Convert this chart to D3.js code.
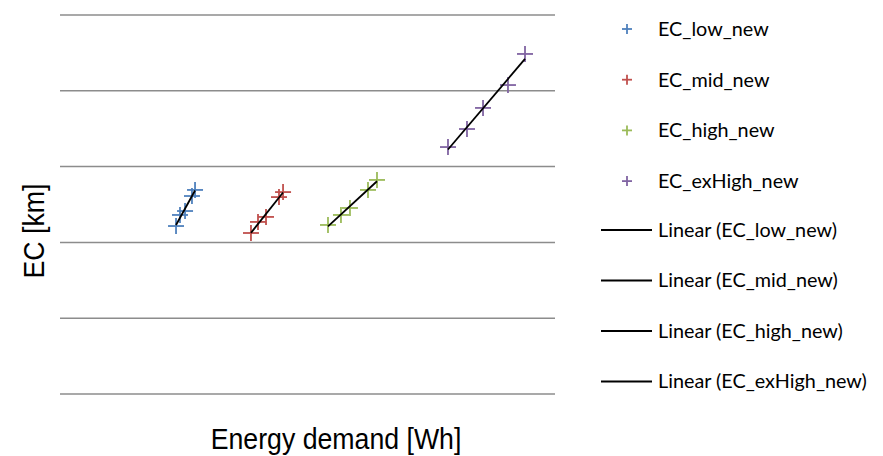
<!DOCTYPE html>
<html><head><meta charset="utf-8">
<script src="https://cdn.jsdelivr.net/npm/d3@7"></script>
<style>body{margin:0;background:#fff}svg{display:block}</style>
</head><body>
<svg id="chart" width="883" height="456"></svg>
<script>
const seriesNames = ["EC_low_new", "EC_mid_new", "EC_high_new", "EC_exHigh_new"];
const seriesColors = ["#4F81BD", "#C0504D", "#9BBB59", "#8064A2"];
const lowX = [1172, 1212, 1263, 1333, 1364];
const lowY = [110.8, 118.1, 120.7, 130.6, 134.6];
const midX = [1929, 2000, 2081, 2212, 2253];
const midY = [106.2, 113.5, 116.8, 129.9, 133.2];
const highX = [2707, 2838, 2929, 3111, 3202];
const highY = [111.5, 118.1, 122.7, 134.6, 141.2];
const exHighX = [3919, 4111, 4273, 4525, 4697];
const exHighY = [162.9, 174.8, 188.7, 203.8, 224.3];
const yTicks = [0, 50, 100, 150, 200, 250];

const seriesX = [lowX, midX, highX, exHighX];
const seriesY = [lowY, midY, highY, exHighY];

const svg = d3.select("#chart");
const x = d3.scaleLinear().domain([0, 5000]).range([60, 555]);
const y = d3.scaleLinear().domain([0, 250]).range([394, 15]);

svg.append("g").selectAll("line").data(yTicks).join("line")
  .attr("x1", x(0)).attr("x2", x(5000))
  .attr("y1", d => y(d)).attr("y2", d => y(d))
  .attr("stroke", "#8c8c8c").attr("stroke-width", 1.5);

function regress(xs, ys) {
  const n = xs.length, mx = d3.mean(xs), my = d3.mean(ys);
  let sxy = 0, sxx = 0;
  for (let i = 0; i < n; i++) { sxy += (xs[i]-mx)*(ys[i]-my); sxx += (xs[i]-mx)**2; }
  const b = sxy / sxx, a = my - b*mx;
  return xx => a + b*xx;
}

const cross = (g, cx, cy, r, color, w) => {
  g.append("line").attr("x1", cx - r).attr("x2", cx + r).attr("y1", cy).attr("y2", cy)
    .attr("stroke", color).attr("stroke-width", w);
  g.append("line").attr("x1", cx).attr("x2", cx).attr("y1", cy - r).attr("y2", cy + r)
    .attr("stroke", color).attr("stroke-width", w);
};

const marks = svg.append("g");
seriesX.forEach((xs, si) => {
  const ys = seriesY[si];
  xs.forEach((xv, i) => cross(marks, x(xv), y(ys[i]), 8, seriesColors[si], 1.8));
});
const trends = svg.append("g");
seriesX.forEach((xs, si) => {
  const f = regress(xs, seriesY[si]);
  const x0 = d3.min(xs), x1 = d3.max(xs);
  trends.append("line").attr("x1", x(x0)).attr("y1", y(f(x0)))
    .attr("x2", x(x1)).attr("y2", y(f(x1)))
    .attr("stroke", "#000").attr("stroke-width", 1.8);
});

const lg = svg.append("g").attr("font-family", "Lato, sans-serif").attr("font-size", 19.8).attr("fill", "#000");
seriesNames.forEach((n, i) => {
  const ly = 29 + i * 50.7;
  cross(lg, 627, ly, 5, seriesColors[i], 1.8);
  lg.append("text").attr("x", 658).attr("y", ly).attr("dy", "0.35em").text(n);
});
seriesNames.forEach((n, i) => {
  const ly = 230 + i * 50.5;
  lg.append("line").attr("x1", 601).attr("x2", 652).attr("y1", ly).attr("y2", ly)
    .attr("stroke", "#000").attr("stroke-width", 1.8);
  lg.append("text").attr("x", 658).attr("y", ly).attr("dy", "0.35em").text("Linear (" + n + ")");
});

svg.append("text").attr("transform", "translate(336,449) scale(0.89,1)").attr("text-anchor", "middle")
  .attr("font-family", "'Liberation Sans', sans-serif").attr("font-size", 30)
  .text("Energy demand [Wh]");
svg.append("text").attr("transform", "translate(44,231) rotate(-90) scale(0.89,1)").attr("text-anchor", "middle")
  .attr("font-family", "'Liberation Sans', sans-serif").attr("font-size", 30)
  .text("EC  [km]");
</script>
</body></html>
